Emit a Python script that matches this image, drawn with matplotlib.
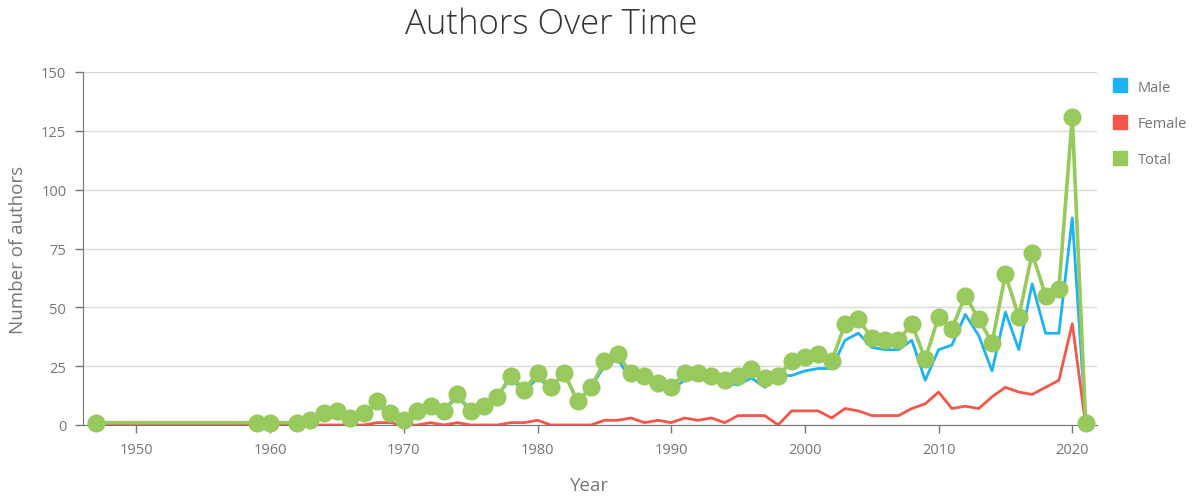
import matplotlib.pyplot as plt

# years with at least one author (1948-1958 and 1961 are absent)
years = [1947, 1959, 1960] + list(range(1962, 2022))

total = [1, 1, 1,
         1, 2, 5, 6, 3, 5, 10, 5,          # 1962-1969
         2, 6, 8, 6, 13, 6, 8, 12, 21, 15,  # 1970-1979
         22, 16, 22, 10, 16, 27, 30, 22, 21, 18,  # 1980-1989
         16, 22, 22, 21, 19, 21, 24, 20, 21, 27,  # 1990-1999
         29, 30, 27, 43, 45, 37, 36, 36, 43, 28,  # 2000-2009
         46, 41, 55, 45, 35, 64, 46, 73, 55, 58,  # 2010-2019
         131, 1]                                 # 2020-2021

female = [0, 0, 0,
          0, 0, 0, 0, 0, 0, 1, 1,
          0, 0, 1, 0, 1, 0, 0, 0, 1, 1,
          2, 0, 0, 0, 0, 2, 2, 3, 1, 2,
          1, 3, 2, 3, 1, 4, 4, 4, 0, 6,
          6, 6, 3, 7, 6, 4, 4, 4, 7, 9,
          14, 7, 8, 7, 12, 16, 14, 13, 16, 19,
          43, 0]

male = [1, 1, 1,
        1, 2, 5, 6, 3, 5, 9, 4,
        2, 6, 7, 6, 12, 6, 8, 12, 20, 14,
        20, 16, 22, 10, 16, 25, 28, 19, 20, 16,
        15, 19, 20, 18, 18, 17, 20, 16, 21, 21,
        23, 24, 24, 36, 39, 33, 32, 32, 36, 19,
        32, 34, 47, 38, 23, 48, 32, 60, 39, 39,
        88, 1]

c_male = '#1db2f5'
c_female = '#f5564a'
c_total = '#97c95c'
grey = '#767676'

plt.rcParams['font.family'] = ['Open Sans', 'DejaVu Sans']

fig = plt.figure(figsize=(11.97, 5.02), dpi=100)
ax = fig.add_axes([83 / 1197, 1 - 426 / 502, (1097 - 83) / 1197, (426 - 73) / 502])

ax.plot(years, male, color=c_male, lw=2, label='Male', zorder=3)
ax.plot(years, female, color=c_female, lw=2, label='Female', zorder=3)
ax.plot(years, total, color=c_total, lw=2.6, marker='o', markersize=12,
        label='Total', zorder=4, clip_on=False)

ax.set_xlim(1946, 2021.85)
ax.set_ylim(0, 150)
ax.set_yticks(range(0, 151, 25))
ax.set_xticks(range(1950, 2021, 10))
ax.grid(axis='y', color='#d9d9d9', lw=1)
ax.set_axisbelow(True)

for s in ['top', 'right']:
    ax.spines[s].set_visible(False)
for s in ['left', 'bottom']:
    ax.spines[s].set_color(grey)
ax.tick_params(colors=grey, labelsize=10.5, length=6, width=1, pad=6)
for lab in ax.get_xticklabels() + ax.get_yticklabels():
    lab.set_color(grey)

ax.set_ylabel('Number of authors', fontsize=13.5, color=grey, labelpad=10)
ax.set_xlabel('Year', fontsize=13.5, color=grey, labelpad=14)

fig.text(551 / 1197, 1 - 25 / 502, 'Authors Over Time', ha='center', va='center',
         fontsize=25, color='#333333', fontweight='light')

leg = ax.legend(loc='upper left', bbox_to_anchor=(1.003, 1.015), frameon=False,
                handlelength=0.9, handleheight=0.9, labelspacing=1.45,
                fontsize=10.5, handletextpad=0.8)
for h in leg.legend_handles:
    h.set_marker('s')
    h.set_markersize(10)
    h.set_linestyle('')
for t in leg.get_texts():
    t.set_color(grey)

fig.savefig('out.png', dpi=100)
